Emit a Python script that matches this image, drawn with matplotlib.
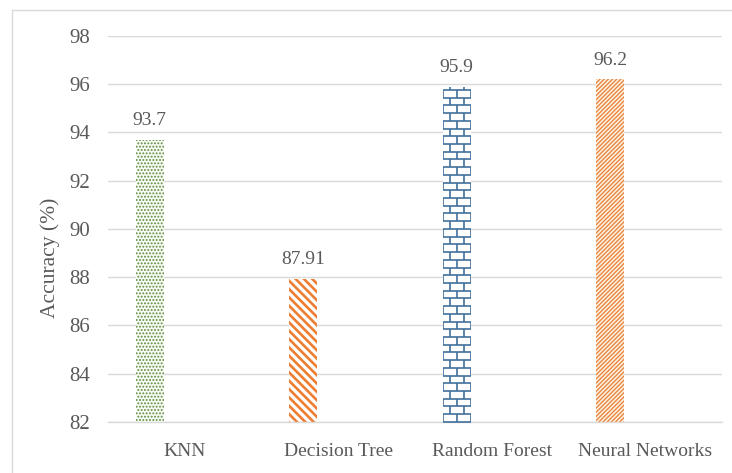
import matplotlib.pyplot as plt
import numpy as np
from matplotlib.collections import LineCollection
from matplotlib.patches import Rectangle

plt.rcParams['font.family'] = ['Liberation Serif', 'DejaVu Serif']

# accuracy of each classifier
models = ['KNN', 'Decision Tree', 'Random Forest', 'Neural Networks']
accuracy = [93.7, 87.91, 95.9, 96.2]
y_ticks = [82, 84, 86, 88, 90, 92, 94, 96, 98]

text_grey = '#595959'
line_grey = '#D9D9D9'

# fill, hatch colour, hatch pattern, hatch line width for every bar
bar_styles = [
    ('#F7FBF4', '#5B8A3C', '.....', 0.9),
    ('white', '#ED7D31', '\\\\\\\\', 1.9),
    ('white', '#41719C', None, 1.0),
    ('#FDF1DE', '#E8833F', '////////', 0.95),
]

fig = plt.figure(figsize=(7.32, 4.73), dpi=100)
ax = fig.add_axes([0.1475, 0.108, 0.8385, 0.816])

# thin frame round the chart
fig.add_artist(Rectangle((12 / 732, -0.1), 1.0, (473 - 10) / 473 + 0.1,
                         transform=fig.transFigure, fill=False,
                         edgecolor=line_grey, lw=1))

x = np.arange(len(models))
bar_x = x - 0.227
bar_w = 0.18

bars = []
for i in range(len(models)):
    fc, hc, hatch, hlw = bar_styles[i]
    with plt.rc_context({'hatch.linewidth': hlw}):
        b = ax.bar(bar_x[i], accuracy[i], bar_w, facecolor=fc, edgecolor=hc,
                   linewidth=0, hatch=hatch, zorder=2)[0]
    bars.append(b)

# brick pattern for the random forest bar
rf = bars[2]
x0, w, top = rf.get_x(), rf.get_width(), rf.get_height()
row_h = 0.32
segs = []
for k, yb in enumerate(np.arange(y_ticks[0], top, row_h)):
    yt = min(yb + row_h, top)
    segs.append([(x0, yb), (x0 + w, yb)])
    joints = [0.0, 0.5, 1.0] if k % 2 == 0 else [0.25, 0.75]
    for f in joints:
        segs.append([(x0 + f * w, yb), (x0 + f * w, yt)])
bricks = LineCollection(segs, colors=bar_styles[2][1], linewidths=1.2, zorder=3)
ax.add_collection(bricks)
bricks.set_clip_path(rf)

for i, v in enumerate(accuracy):
    ax.text(bar_x[i], v + 0.45, str(v), ha='center', va='bottom',
            fontsize=14, color=text_grey)

ax.set_xlim(-0.5, len(models) - 0.5)
ax.set_ylim(y_ticks[0], y_ticks[-1])
ax.set_yticks(y_ticks)
ax.set_xticks(x)
ax.set_xticklabels(models)

ax.yaxis.grid(True, color=line_grey, lw=1)
ax.set_axisbelow(True)
for s in ['left', 'top', 'right']:
    ax.spines[s].set_visible(False)
ax.spines['bottom'].set_color(line_grey)
ax.spines['bottom'].set_linewidth(1)

ax.tick_params(axis='y', length=0, pad=13, labelsize=15, labelcolor=text_grey)
ax.tick_params(axis='x', length=0, pad=15, labelsize=14, labelcolor=text_grey)

ax.set_ylabel('Accuracy (%)', fontsize=15.5, color=text_grey)
ax.yaxis.set_label_coords(-0.078, 0.425)

fig.savefig('out.png', dpi=100)
